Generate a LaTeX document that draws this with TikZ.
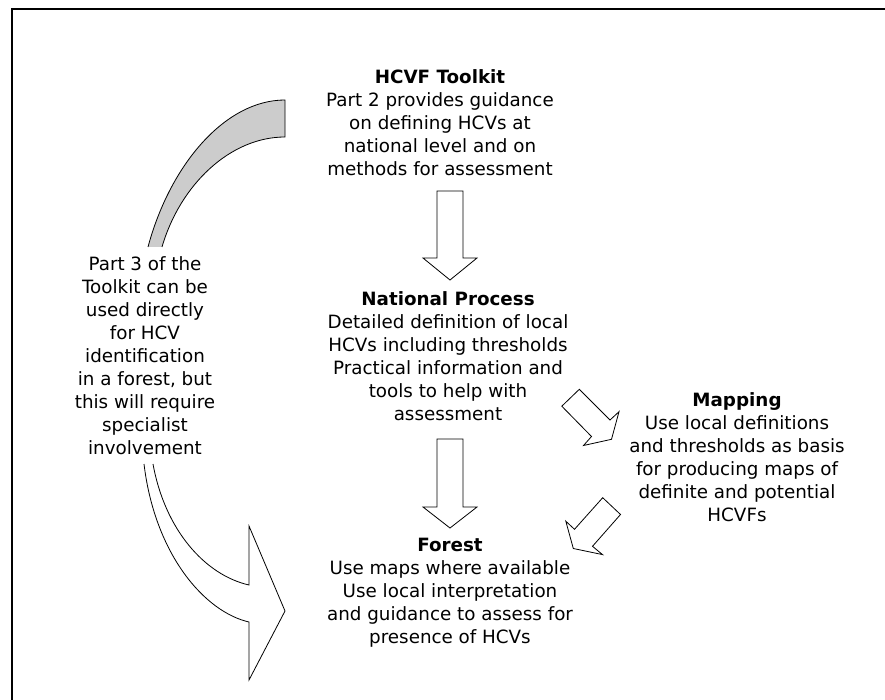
\documentclass[tikz,border=0pt]{standalone}
\usepackage{fontspec}
\setmainfont{DejaVu Sans}
\definecolor{bandgray}{RGB}{204,204,204}
\begin{document}
\begin{tikzpicture}[x=1pt,y=-1pt,
  txt/.style={align=center, inner sep=0pt, font=\fontsize{18.3}{23}\selectfont},
  blockarrow/.style={draw=black, fill=white, line width=0.8pt, line join=miter},
  band/.style={draw=black, fill=bandgray, line width=0.8pt}]
\useasboundingbox (0,0) rectangle (885,700);
% frame (cropped)
\draw[line width=1.3pt] (12,700) -- (12,9) -- (885,9);

% texts
\node[txt] (toolkit) at (440,123) {\textbf{HCVF Toolkit}\\Part 2 provides guidance\\on defining HCVs at\\national level and on\\methods for assessment};
\node[txt] (national) at (448,356.5) {\textbf{National Process}\\Detailed definition of local\\HCVs including thresholds\\Practical information and\\tools to help with\\assessment};
\node[txt] (forest) at (450,593) {\textbf{Forest}\\Use maps where available\\Use local interpretation\\and guidance to assess for\\presence of HCVs};
\node[txt] (mapping) at (737,457.5) {\textbf{Mapping}\\Use local definitions\\and thresholds as basis\\for producing maps of\\definite and potential\\HCVFs};
\node[txt] (part3) at (145,356) {Part 3 of the\\Toolkit can be\\used directly\\for HCV\\identification\\in a forest, but\\this will require\\specialist\\involvement};

% straight block arrows
\draw[blockarrow] (437,191) -- (463,191) -- (463,258) -- (477,258) -- (450,280) -- (423,258) -- (437,258) -- cycle;
\draw[blockarrow] (437,439) -- (463,439) -- (463,507) -- (477,507) -- (450,528) -- (423,507) -- (437,507) -- cycle;

% diagonal block arrows
\draw[blockarrow] (579.3,389.3) -- (610,420) -- (619,411.7) -- (611.5,439.3) -- (583.5,445.5) -- (591.5,436.5) -- (561.8,406.2) -- cycle;
\draw[blockarrow] (602.7,497.7) -- (620.5,514.5) -- (592.5,546.3) -- (602.5,554.6) -- (573.3,548.5) -- (565.8,521.2) -- (574.5,529.3) -- cycle;

% grey curved band (top-left)
\filldraw[band] (162,247) .. controls (180,185) and (230,137) .. (285,137) -- (285,100) .. controls (225,100) and (170,165) .. (148,247);

% curved white arrow (bottom-left)
\filldraw[blockarrow] (153,464) .. controls (165,530) and (205,575) .. (249,585) -- (249,526) -- (285,611) -- (249,680) -- (249,622) .. controls (205,612) and (155,555) .. (144,464);
\end{tikzpicture}
\end{document}
